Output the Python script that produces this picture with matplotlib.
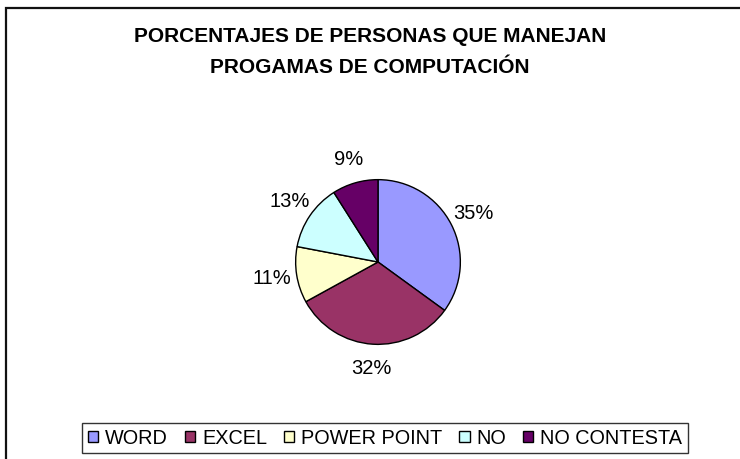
import matplotlib
matplotlib.use("Agg")
import matplotlib.pyplot as plt
from matplotlib.patches import Rectangle

categories = ["WORD", "EXCEL", "POWER POINT", "NO", "NO CONTESTA"]
values = [35, 32, 11, 13, 9]
colors = ["#9999FF", "#993366", "#FFFFCC", "#CCFFFF", "#660066"]
title_lines = ["PORCENTAJES DE PERSONAS QUE MANEJAN", "PROGAMAS DE COMPUTACIÓN"]

plt.rcParams['font.family'] = ['Liberation Sans', 'DejaVu Sans']

W, H = 740, 459
fig = plt.figure(figsize=(W / 100, H / 100), dpi=100)

# outer chart frame (right and bottom edges fall outside the image)
fig.patches.append(Rectangle((6 / W, -0.1), 1.2, 1.1 - 8 / H, transform=fig.transFigure,
                             fill=False, edgecolor="#111111", linewidth=1.6))

cx, cy, r = 378, 262, 84
ax = fig.add_axes([(cx - r) / W, (H - cy - r) / H, 2 * r / W, 2 * r / H])
wedges, texts, autotexts = ax.pie(
    values, colors=colors, startangle=90, counterclock=False,
    wedgeprops=dict(edgecolor="black", linewidth=1.0),
    autopct=lambda p: f"{p:.0f}%", pctdistance=1.3,
    textprops=dict(fontsize=14.5, color="black"))
ax.set_xlim(-1.02, 1.02)
ax.set_ylim(-1.02, 1.02)
ax.axis("off")

fig.text(370 / W, 1 - 52 / H, "\n".join(title_lines), ha="center", va="center",
         fontsize=15, fontweight="bold", linespacing=1.8)

leg = fig.legend(wedges, categories, loc="center right", ncol=5,
                 bbox_to_anchor=(688 / W, 1 - 438 / H),
                 fontsize=14.3, frameon=True, fancybox=False,
                 edgecolor="black", handlelength=0.52, handleheight=0.52,
                 handletextpad=0.35, columnspacing=0.85, borderpad=0.28,
                 borderaxespad=0)
leg.get_frame().set_linewidth(1.0)
for h in leg.legend_handles:
    h.set_edgecolor("black")
    h.set_linewidth(1.0)

fig.savefig("out.png", dpi=100)
